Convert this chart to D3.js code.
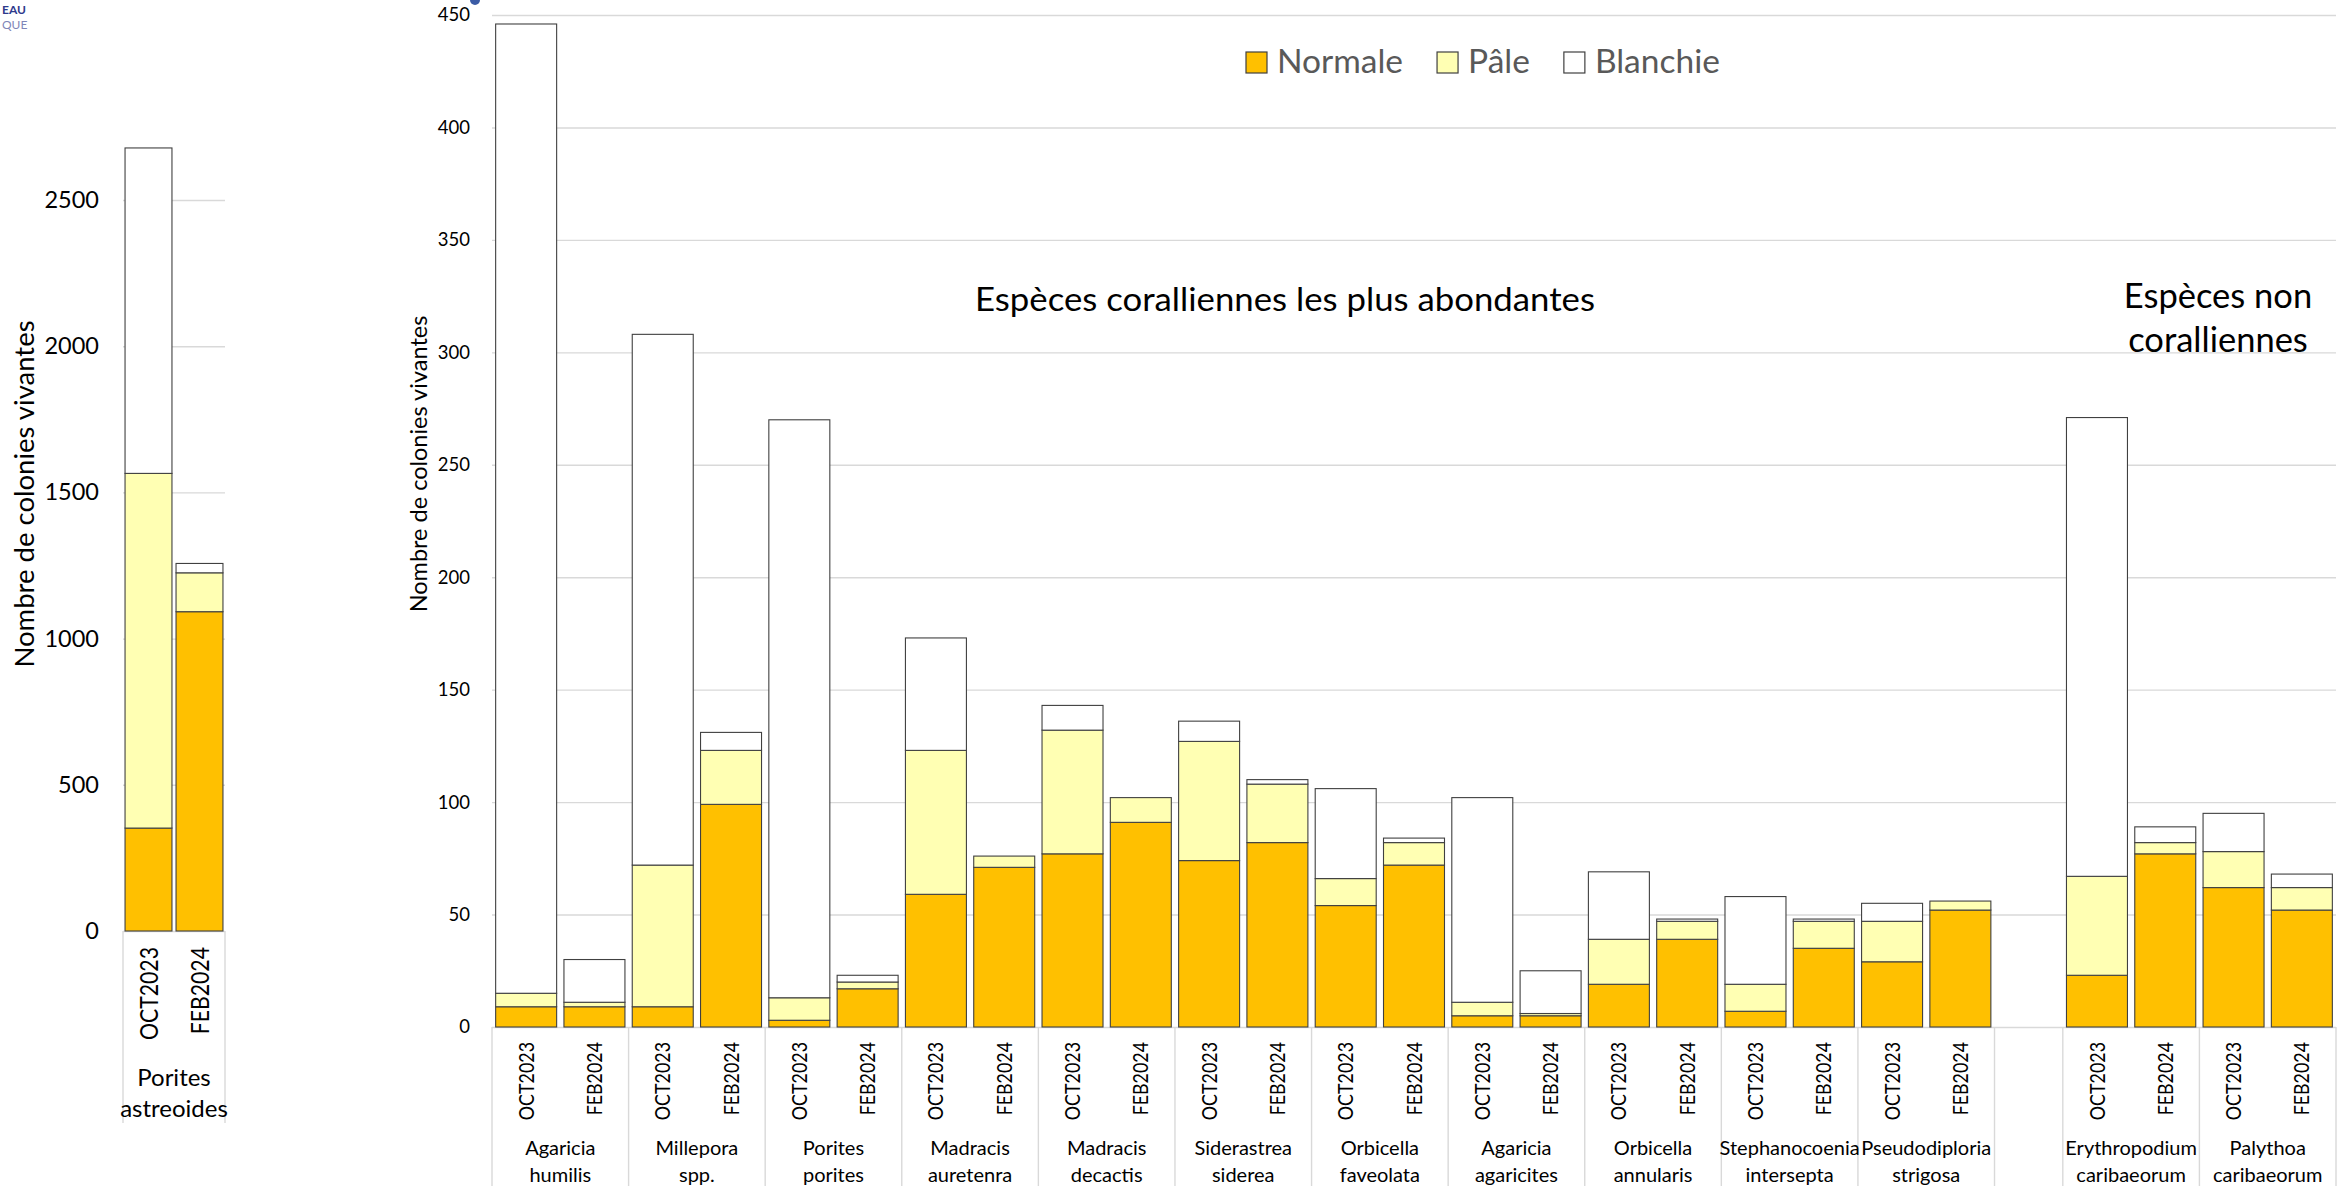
<!DOCTYPE html>
<html>
<head>
<meta charset="utf-8">
<script src="https://cdn.jsdelivr.net/npm/d3@7"></script>
<style>
  html, body { margin: 0; padding: 0; background: #ffffff; }
  svg { display: block; font-family: Lato, "Open Sans", "Noto Sans", sans-serif; }
</style>
</head>
<body>
<svg id="chart" width="2346" height="1186"></svg>
<script>
// Survey campaigns
const surveys = ["OCT2023", "FEB2024"];

// Most abundant coral species, then the non-coral species
const coralSpecies = [
  "Agaricia humilis", "Millepora spp.", "Porites porites", "Madracis auretenra",
  "Madracis decactis", "Siderastrea siderea", "Orbicella faveolata",
  "Agaricia agaricites", "Orbicella annularis", "Stephanocoenia intersepta",
  "Pseudodiploria strigosa"
];
const nonCoralSpecies = ["Erythropodium caribaeorum", "Palythoa caribaeorum"];

// Live colonies by condition, one value per species (coral species then non-coral)
const normaleOct  = [9, 9, 3, 59, 77, 74, 54, 5, 19, 7, 29, 23, 62];
const paleOct     = [6, 63, 10, 64, 55, 53, 12, 6, 20, 12, 18, 44, 16];
const blanchieOct = [431, 236, 257, 50, 11, 9, 40, 91, 30, 39, 8, 204, 17];
const normaleFeb  = [9, 99, 17, 71, 91, 82, 72, 5, 39, 35, 52, 77, 52];
const paleFeb     = [2, 24, 3, 5, 11, 26, 10, 1, 8, 12, 4, 5, 10];
const blanchieFeb = [19, 8, 3, 0, 0, 2, 2, 19, 1, 1, 0, 7, 6];

// Porites astreoides, drawn on its own scale (OCT2023, FEB2024)
const astreoidesName = "Porites astreoides";
const astreoidesNormale  = [352, 1092];
const astreoidesPale     = [1213, 133];
const astreoidesBlanchie = [1113, 32];

// Axis ticks
const mainTicks = [0, 50, 100, 150, 200, 250, 300, 350, 400, 450];
const astreoidesTicks = [0, 500, 1000, 1500, 2000, 2500];

// Colony condition classes
const stateKeys   = ["normale", "pale", "blanchie"];
const stateLabels = ["Normale", "Pâle", "Blanchie"];
const stateColors = ["#FFC000", "#FFFFB3", "#FFFFFF"];

const yTitle = "Nombre de colonies vivantes";
const coralTitle = "Espèces coralliennes les plus abondantes";
const nonCoralTitle = ["Espèces non", "coralliennes"];

const svg = d3.select("#chart");
const GRID = "#d9d9d9";
const OUTLINE = "#404040";
const color = d3.scaleOrdinal().domain(stateKeys).range(stateColors);

// Squeeze a text run to a share of its natural length (narrow, Calibri-like labels)
function condense(sel, k) {
  sel.each(function () {
    const len = this.getComputedTextLength();
    d3.select(this).attr("textLength", len * k).attr("lengthAdjust", "spacingAndGlyphs");
  });
}

// ---------- Main chart ----------
const allSpecies = coralSpecies.concat(nonCoralSpecies);
const rows = [];
allSpecies.forEach((sp, i) => {
  if (i === coralSpecies.length) {
    rows.push({ slot: "gap", blank: true, normale: 0, pale: 0, blanchie: 0 });
  }
  rows.push({ slot: sp + "|" + surveys[0], species: sp, survey: surveys[0],
              normale: normaleOct[i], pale: paleOct[i], blanchie: blanchieOct[i] });
  rows.push({ slot: sp + "|" + surveys[1], species: sp, survey: surveys[1],
              normale: normaleFeb[i], pale: paleFeb[i], blanchie: blanchieFeb[i] });
});

const plotLeft = 492, plotRight = 2336;
const x = d3.scaleBand()
  .domain(rows.map(d => d.slot))
  .range([plotLeft, plotRight])
  .paddingInner(0.107)
  .paddingOuter(0.0535);
const y = d3.scaleLinear().domain([0, 450]).range([1027, 15]);

// Gridlines and value labels
const yAxis = svg.append("g")
  .attr("transform", `translate(${plotLeft},0)`)
  .call(d3.axisLeft(y).tickValues(mainTicks).tickFormat(d3.format("d"))
    .tickSize(-(plotRight - plotLeft)).tickPadding(22));
yAxis.select(".domain").remove();
yAxis.selectAll(".tick line").attr("stroke", GRID).attr("stroke-width", 1.4);
yAxis.selectAll(".tick text")
  .attr("font-family", "Lato, sans-serif").attr("font-size", 18.5).attr("fill", "#000");

// Stacked bars
const stacked = d3.stack().keys(stateKeys)(rows);
svg.append("g").selectAll("g")
  .data(stacked)
  .join("g")
  .attr("fill", d => color(d.key))
  .selectAll("rect")
  .data(d => d.filter(s => !s.data.blank && s[1] - s[0] > 0))
  .join("rect")
  .attr("x", d => x(d.data.slot))
  .attr("y", d => y(d[1]))
  .attr("width", x.bandwidth())
  .attr("height", d => y(d[0]) - y(d[1]))
  .attr("stroke", OUTLINE)
  .attr("stroke-width", 1.1);

// Category axis: separators between species groups
const half = x.step() * x.paddingInner() / 2;
const sepX = [];
rows.forEach(r => {
  if (r.blank || r.survey === surveys[0]) sepX.push(x(r.slot) - half);
});
sepX.push(plotRight);
svg.append("g").selectAll("line")
  .data(sepX)
  .join("line")
  .attr("x1", d => d).attr("x2", d => d)
  .attr("y1", y(0)).attr("y2", 1186)
  .attr("stroke", GRID).attr("stroke-width", 1.4);

// Survey labels
const dateLabels = svg.append("g").selectAll("text")
  .data(rows.filter(r => !r.blank))
  .join("text")
  .attr("transform", d => `translate(${x(d.slot) + x.bandwidth() / 2},1042) rotate(-90)`)
  .attr("text-anchor", "end")
  .attr("dy", "0.36em")
  .attr("font-size", 21)
  .attr("fill", "#000")
  .text(d => d.survey);
condense(dateLabels, 0.85);

// Species labels
const groupCenters = allSpecies.map(sp => ({
  sp,
  cx: (x(sp + "|" + surveys[0]) + x(sp + "|" + surveys[1]) + x.bandwidth()) / 2
}));
const spText = svg.append("g").selectAll("text")
  .data(groupCenters)
  .join("text")
  .attr("text-anchor", "middle")
  .attr("font-size", 20)
  .attr("fill", "#000");
spText.selectAll("tspan")
  .data(d => d.sp.split(" ").map((w, i) => ({ w, i, cx: d.cx })))
  .join("tspan")
  .attr("x", d => d.cx)
  .attr("y", d => d.i === 0 ? 1155 : 1182)
  .text(d => d.w);

// Axis title
svg.append("text")
  .attr("transform", "translate(419,464) rotate(-90)")
  .attr("text-anchor", "middle")
  .attr("dy", "0.36em")
  .attr("font-size", 23.5)
  .attr("fill", "#000")
  .text(yTitle);

// Section titles
svg.append("text")
  .attr("x", 975).attr("y", 311)
  .attr("font-size", 33).attr("fill", "#000")
  .attr("textLength", 620).attr("lengthAdjust", "spacingAndGlyphs")
  .text(coralTitle);
svg.append("g").selectAll("text")
  .data(nonCoralTitle)
  .join("text")
  .attr("x", 2218)
  .attr("y", (d, i) => 308 + i * 44)
  .attr("text-anchor", "middle")
  .attr("font-size", 34.5).attr("fill", "#000")
  .text(d => d);

// Legend
const legend = svg.append("g");
let lx = 1246;
stateKeys.forEach((k, i) => {
  legend.append("rect")
    .attr("x", lx).attr("y", 52).attr("width", 21).attr("height", 21)
    .attr("fill", color(k)).attr("stroke", OUTLINE).attr("stroke-width", 1.2);
  const t = legend.append("text")
    .attr("x", lx + 31).attr("y", 73)
    .attr("font-size", 33.5).attr("fill", "#595959")
    .text(stateLabels[i]);
  lx = lx + 31 + t.node().getComputedTextLength() + 34;
});

// ---------- Porites astreoides chart ----------
const aRows = surveys.map((s, i) => ({
  survey: s,
  normale: astreoidesNormale[i],
  pale: astreoidesPale[i],
  blanchie: astreoidesBlanchie[i]
}));
const aLeft = 123, aRight = 225;
const xa = d3.scaleBand().domain(surveys).range([aLeft, aRight])
  .paddingInner(0.08).paddingOuter(0.04);
const ya = d3.scaleLinear().domain([0, 2500]).range([931, 200]);

const aAxis = svg.append("g")
  .attr("transform", `translate(${aLeft},0)`)
  .call(d3.axisLeft(ya).tickValues(astreoidesTicks).tickFormat(d3.format("d"))
    .tickSize(-(aRight - aLeft)).tickPadding(24));
aAxis.select(".domain").remove();
aAxis.selectAll(".tick line").attr("stroke", GRID).attr("stroke-width", 1.4);
aAxis.selectAll(".tick text")
  .attr("font-family", "Lato, sans-serif").attr("font-size", 23.5).attr("fill", "#000");

const aStacked = d3.stack().keys(stateKeys)(aRows);
svg.append("g").selectAll("g")
  .data(aStacked)
  .join("g")
  .attr("fill", d => color(d.key))
  .selectAll("rect")
  .data(d => d.filter(s => s[1] - s[0] > 0))
  .join("rect")
  .attr("x", d => xa(d.data.survey))
  .attr("y", d => ya(d[1]))
  .attr("width", xa.bandwidth())
  .attr("height", d => ya(d[0]) - ya(d[1]))
  .attr("stroke", OUTLINE)
  .attr("stroke-width", 1.1);

svg.append("g").selectAll("line")
  .data([aLeft, aRight])
  .join("line")
  .attr("x1", d => d).attr("x2", d => d)
  .attr("y1", ya(0)).attr("y2", 1123)
  .attr("stroke", GRID).attr("stroke-width", 1.4);

const aDates = svg.append("g").selectAll("text")
  .data(aRows)
  .join("text")
  .attr("transform", d => `translate(${xa(d.survey) + xa.bandwidth() / 2},947) rotate(-90)`)
  .attr("text-anchor", "end")
  .attr("dy", "0.36em")
  .attr("font-size", 25)
  .attr("fill", "#000")
  .text(d => d.survey);
condense(aDates, 0.85);

svg.append("text")
  .attr("text-anchor", "middle")
  .attr("font-size", 24)
  .attr("fill", "#000")
  .selectAll("tspan")
  .data(astreoidesName.split(" "))
  .join("tspan")
  .attr("x", (aLeft + aRight) / 2)
  .attr("y", (d, i) => i === 0 ? 1086 : 1117)
  .text(d => d);

svg.append("text")
  .attr("transform", "translate(24,494) rotate(-90)")
  .attr("text-anchor", "middle")
  .attr("dy", "0.36em")
  .attr("font-size", 27.5)
  .attr("fill", "#000")
  .text(yTitle);

// Page header fragments in the top-left corner
svg.append("text").attr("x", 2).attr("y", 14)
  .attr("font-size", 12).attr("font-weight", 700).attr("fill", "#2e3a8c").text("EAU");
svg.append("text").attr("x", 2).attr("y", 29)
  .attr("font-size", 12).attr("fill", "#7f86b8").text("QUE");
svg.append("circle").attr("cx", 475).attr("cy", 0).attr("r", 5).attr("fill", "#3b5ba5");
</script>
</body>
</html>
